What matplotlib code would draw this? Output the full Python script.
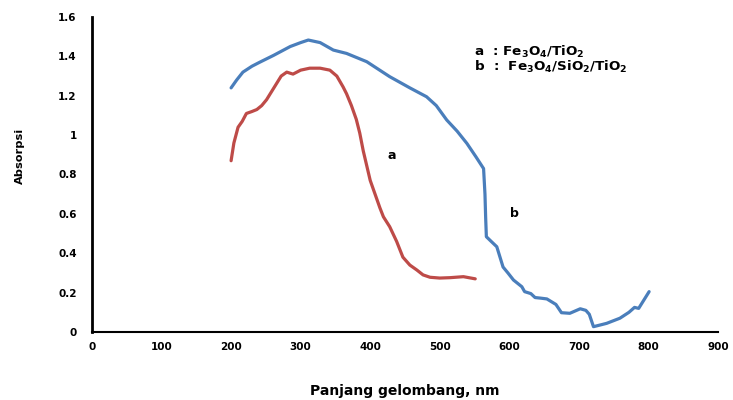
import matplotlib
matplotlib.use("Agg")
import matplotlib.pyplot as plt

# Sample a: Fe3O4/TiO2
wl_a = [200, 204, 210, 216, 222, 230, 237, 244, 251, 258, 265, 272, 280, 289, 300,
        313, 328, 342, 352, 361, 366, 373, 380, 385, 390, 400, 414, 419, 428, 438,
        447, 457, 467, 476, 486, 500, 515, 534, 551]
abs_a = [0.87, 0.96, 1.04, 1.07, 1.11, 1.12, 1.13, 1.15, 1.18, 1.22, 1.26, 1.30, 1.32, 1.31, 1.33,
         1.34, 1.34, 1.33, 1.30, 1.245, 1.21, 1.15, 1.08, 1.01, 0.92, 0.77, 0.63, 0.585, 0.535, 0.46,
         0.38, 0.34, 0.315, 0.29, 0.278, 0.274, 0.276, 0.281, 0.27]

# Sample b: Fe3O4/SiO2/TiO2
wl_b = [200, 208, 217, 230, 241, 261, 285, 300, 311, 328, 347, 366, 395, 428, 457,
        481, 495, 510, 525, 539, 552, 563, 565, 566, 567, 574, 582, 591, 598, 606,
        618, 622, 631, 637, 645, 654, 667, 675, 687, 702, 710, 715, 721, 730, 740,
        759, 772, 780, 786, 801]
abs_b = [1.24, 1.28, 1.32, 1.35, 1.37, 1.405, 1.45, 1.47, 1.483, 1.47, 1.432, 1.415, 1.373, 1.297, 1.24,
         1.195, 1.15, 1.077, 1.02, 0.958, 0.89, 0.83, 0.70, 0.58, 0.484, 0.46, 0.433, 0.33, 0.30, 0.264,
         0.23, 0.205, 0.195, 0.175, 0.172, 0.168, 0.14, 0.098, 0.095, 0.118, 0.11, 0.09, 0.027, 0.035, 0.044,
         0.07, 0.10, 0.125, 0.12, 0.205]

x_ticks = [0, 100, 200, 300, 400, 500, 600, 700, 800, 900]
y_ticks = [0, 0.2, 0.4, 0.6, 0.8, 1.0, 1.2, 1.4, 1.6]
y_tick_labels = ["0", "0.2", "0.4", "0.6", "0.8", "1", "1.2", "1.4", "1.6"]

fig = plt.figure(figsize=(7.33, 4.0), dpi=100)
ax = fig.add_axes([0.1255, 0.17, 0.854, 0.7875])

ax.plot(wl_b, abs_b, color="#4a7ebb", lw=2.3, solid_capstyle="round", solid_joinstyle="round")
ax.plot(wl_a, abs_a, color="#be4b48", lw=2.3, solid_capstyle="round", solid_joinstyle="round")

ax.set_xlim(0, 900)
ax.set_ylim(0, 1.6)
ax.set_xticks(x_ticks)
ax.set_xticklabels([str(t) for t in x_ticks], fontsize=7.5, fontweight="bold")
ax.set_yticks(y_ticks)
ax.set_yticklabels(y_tick_labels, fontsize=7.5, fontweight="bold")
ax.tick_params(length=0, pad=7)
ax.tick_params(axis="y", pad=11)

for s in ["top", "right"]:
    ax.spines[s].set_visible(False)
ax.spines["left"].set_linewidth(2.0)
ax.spines["bottom"].set_linewidth(1.5)

ax.set_ylabel("Absorpsi", fontsize=8.2, fontweight="bold")
ax.yaxis.set_label_coords(-0.107, 0.56)
ax.set_xlabel("Panjang gelombang, nm", fontsize=10, fontweight="bold")
ax.xaxis.set_label_coords(0.5, -0.165)

ax.text(431, 0.894, "a", fontsize=9, fontweight="bold", ha="center", va="center")
ax.text(608, 0.60, "b", fontsize=9, fontweight="bold", ha="center", va="center")

ax.text(549, 1.425, r"a  : Fe$_\mathbf{3}$O$_\mathbf{4}$/TiO$_\mathbf{2}$",
        fontsize=9.7, fontweight="bold", ha="left", va="center")
ax.text(549, 1.345, r"b  :  Fe$_\mathbf{3}$O$_\mathbf{4}$/SiO$_\mathbf{2}$/TiO$_\mathbf{2}$",
        fontsize=9.7, fontweight="bold", ha="left", va="center")

fig.savefig("out.png", dpi=100)
